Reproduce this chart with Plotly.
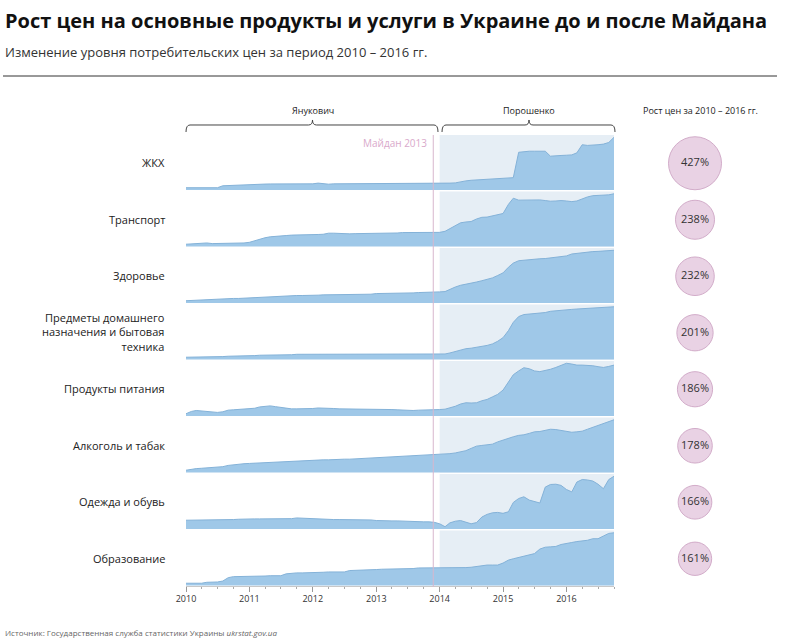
import pandas as pd
import plotly.graph_objects as go

# monthly price index, Jan 2010 = 100
months = pd.date_range('2010-01-01', '2016-10-01', freq='MS')

categories = ['ЖКХ', 'Транспорт', 'Здоровье',
              'Предметы домашнего<br>назначения и бытовая<br>техника',
              'Продукты питания', 'Алкоголь и табак', 'Одежда и обувь', 'Образование']

growth = [427, 238, 232, 201, 186, 178, 166, 161]

zhkh = [100, 100, 100, 100, 100, 100, 100, 116.5, 119, 119, 122, 125,
        127.5, 130, 131, 131, 132, 132, 132, 132, 133, 133, 133, 133,
        133, 139, 133, 130, 133, 133, 136, 139, 139, 133, 133, 136,
        139, 139, 139, 139, 139, 139, 139, 139, 139, 139, 139, 139,
        139, 139, 139, 141, 152, 158, 163, 166, 169, 172, 174, 180,
        183, 183, 185, 400, 406, 409, 409, 411, 409, 367, 373, 373,
        375, 378, 395, 464, 458, 458, 464, 469, 483, 527]

transport = [100, 101.5, 103, 104.6, 106, 103, 103, 103, 103, 104.6, 104.6, 106,
             109, 117, 124, 130.5, 135, 138, 140, 141, 143, 143, 144, 146,
             146, 146, 147, 152, 152, 150, 149, 149, 150, 150, 150, 152,
             152, 152, 153, 153, 153, 155, 155, 155, 155, 155, 155, 155,
             156, 161, 173, 185, 201, 205, 207, 219, 227, 228, 234, 240,
             245, 288, 317, 308, 308, 309, 311, 309, 306, 303, 304, 306,
             304, 301, 304, 314, 323, 329, 330, 332, 333, 338]

health = [100, 101.5, 103, 104.5, 106, 106, 107.5, 107.5, 109, 110.5, 110.5, 112,
          113.5, 115, 116.5, 118, 119.5, 121, 121, 122.5, 122.5, 124, 124, 125.6,
          125.6, 125.6, 127, 127, 127, 128.6, 128.6, 128.6, 128.6, 130, 130, 130,
          133, 133, 133, 134.6, 134.6, 136, 136, 136, 137.6, 137.6, 139, 139,
          140.7, 142, 153, 163, 171, 175, 180, 186, 192, 198, 205, 216,
          228, 254, 273, 284, 287, 288, 290, 293, 294, 297, 299, 303,
          306, 315, 318, 321, 324, 326, 327, 329, 330, 332]

household = [100, 100, 100, 100, 101, 101, 101, 102.6, 104, 104, 105, 105,
             106.5, 106.5, 108, 108, 108, 109, 109, 110, 110, 111.7, 111.7, 111.7,
             111.7, 111.7, 111.7, 111.7, 111.7, 111.7, 111.7, 111.7, 111.7, 111.7, 111.7, 111.7,
             111.7, 111.7, 111.7, 111.7, 111.7, 111.7, 111.7, 111.7, 111.7, 111.7, 111.7, 111.7,
             111.7, 113, 117, 123, 130, 134, 136, 139, 141.5, 147, 153, 163.5,
             178, 206, 239, 262, 270, 272.5, 274, 275, 278, 283, 285.5, 287,
             288, 290.6, 292, 293, 294.6, 295, 297, 298, 300, 301]

food = [100, 108.7, 112.4, 111, 108.7, 106, 105, 107.4, 113.6, 115, 116, 117.4,
        118.6, 121, 126, 128.5, 130, 127, 123.6, 120, 118.6, 118.6, 118.6, 120,
        120, 122, 122, 121, 120, 118.6, 118.6, 117.4, 117.4, 117.4, 117.4, 117.4,
        117.4, 116, 116, 116, 115, 113.6, 112.4, 112.4, 113.6, 113.6, 113.6, 115,
        116, 117.4, 122, 128.5, 137, 142, 141, 142, 149.6, 154.6, 164.5, 174,
        190.5, 221.5, 249, 263.7, 276, 272, 263.7, 261, 265, 270, 277, 286,
        293, 290, 286, 286, 286, 283.5, 280, 277, 281, 286]

alcohol = [100, 103.4, 105.7, 107, 108, 108, 110, 112.6, 117, 119.5, 122, 123,
           124, 125, 126.4, 126.4, 127.5, 128.7, 128.7, 130, 130, 131, 132, 133,
           134.4, 135.6, 136.7, 136.7, 138, 138, 139, 139, 140, 141.3, 141.3, 142.5,
           143.6, 144.8, 146, 147, 148, 149, 150.5, 151.7, 153, 154, 154, 155,
           156, 157.4, 158.5, 161, 164, 169, 177, 185, 187.5, 189.5, 192, 200,
           207, 213.7, 218, 223, 225, 230, 235.5, 236.6, 241, 244.6, 243.5, 241,
           237.8, 234, 235.5, 237.8, 244.6, 251.5, 259.6, 265, 271, 278]

clothing = [100, 100, 100, 100, 100, 100, 100, 100, 101, 102.5, 103.7, 105,
            105, 105, 105, 105, 105, 105, 105, 105, 106, 108.6, 107.4, 106,
            105, 103.7, 103.7, 102.5, 102.5, 102.5, 102.5, 101, 102.5, 102.5, 102.5, 101,
            98.8, 97.5, 97.5, 97.5, 97.5, 96.3, 95, 93.9, 93.9, 93.9, 93.9, 92,
            86.5, 75.4, 90, 96.3, 98.8, 93.9, 86.5, 91, 112, 122, 128, 129.5,
            126, 132, 167, 182, 188.5, 176, 170, 165, 225, 235, 236, 231.6,
            216, 207, 244, 253.7, 252, 248, 236, 219, 253.7, 266]

education = [100, 100, 100, 100, 103, 103, 104, 107, 117.7, 121, 121, 122,
             122, 123, 123, 123, 124, 124, 124, 130, 132, 133, 133, 133,
             134, 134, 135, 136, 136, 136, 136, 140.5, 141.6, 142.6, 142.6, 143.6,
             143.6, 144.7, 144.7, 144.7, 144.7, 144.7, 144.7, 146.8, 148.8, 148.8, 148.8, 147.8,
             148.8, 148.8, 148.8, 148.8, 149.9, 149.9, 151, 154, 157, 158, 158, 158,
             164.4, 173.8, 178, 182, 186, 191.4, 194.5, 209, 215, 216, 217.4, 223.6,
             227.8, 230, 233, 235, 237, 242, 242, 250.6, 259, 261]

series = [zhkh, transport, health, household, food, alcohol, clothing, education]

W, H = 800, 639
FONT = 'Open Sans'
x_dom = [186 / W, 614 / W]


def py(y):
    return 1 - y / H


fig = go.Figure()
shapes = []
annotations = []

for i, vals in enumerate(series):
    n = i + 1
    top = 135 + 56.5 * i
    bot = top + 55
    lo, hi = min(vals), max(vals)
    pad = 0.045 * (hi - lo)
    fig.add_trace(go.Scatter(
        x=months, y=vals, mode='lines', fill='tozeroy',
        line=dict(color='#84b2d8', width=1), fillcolor='#9fc8e8',
        xaxis='x', yaxis='y' if n == 1 else 'y%d' % n,
        showlegend=False, hoverinfo='skip'))
    fig.layout['yaxis' if n == 1 else 'yaxis%d' % n] = dict(
        domain=[py(bot), py(top)], range=[lo - pad, hi + pad],
        visible=False, anchor='x', fixedrange=True)
    yref = 'y domain' if n == 1 else 'y%d domain' % n
    shapes.append(dict(type='rect', xref='x', yref=yref, x0='2014-01-01', x1=months[-1],
                       y0=0, y1=1, fillcolor='#e6eef5', line=dict(width=0), layer='below'))
    annotations.append(dict(xref='paper', yref=yref, x=167 / W, y=0.5, xanchor='right',
                            yanchor='middle', text=categories[i], showarrow=False, align='right',
                            font=dict(family=FONT, size=11, color='#222')))

# growth circles
fig.add_trace(go.Scatter(
    x=['g'] * len(categories), y=categories, mode='markers+text',
    marker=dict(size=[21.4 + 0.074 * g for g in growth], sizemode='diameter',
                color='#e0c0da', line=dict(color='#c08ab3', width=1)),
    text=['%d%%' % g for g in growth], textposition='middle center',
    textfont=dict(family=FONT, size=11, color='#333'),
    xaxis='x2', yaxis='y9', showlegend=False, hoverinfo='skip'))

fig.update_layout(
    width=W, height=H,
    margin=dict(l=0, r=0, t=0, b=0, autoexpand=False),
    paper_bgcolor='white', plot_bgcolor='rgba(0,0,0,0)',
    xaxis=dict(domain=x_dom, range=[months[0], months[-1]], anchor='y8',
               type='date', tick0='2010-01-01', dtick='M12', tickformat='%Y',
               ticks='outside', ticklen=5, tickcolor='#999', showgrid=False,
               showline=True, linecolor='#c8c8c8', zeroline=False, automargin=False,
               minor=dict(dtick='M3', ticks='outside', ticklen=2, tickcolor='#aaa'),
               tickfont=dict(family=FONT, size=9, color='#333'), fixedrange=True),
    xaxis2=dict(domain=[645 / W, 745 / W], visible=False, anchor='y9', fixedrange=True),
    yaxis9=dict(domain=[py(587), py(135)], type='category', categoryarray=categories,
                range=[len(categories) - 0.5, -0.5], autorange=False,
                visible=False, anchor='x2', fixedrange=True),
)

# Maidan line
shapes.append(dict(type='line', xref='x', yref='paper', x0='2013-11-25', x1='2013-11-25',
                   y0=py(587), y1=py(135), line=dict(color='#d8b6cd', width=1), layer='above'))
annotations.append(dict(xref='paper', yref='paper', x=429 / W, y=py(143), xanchor='right',
                        yanchor='middle', text='Майдан 2013', showarrow=False,
                        font=dict(family=FONT, size=10, color='#d9a9cb')))


def bracket(x0, x1, tip):
    yl, yt, ye = py(125), py(120), py(132)
    return ('M %f,%f Q %f,%f %f,%f L %f,%f Q %f,%f %f,%f Q %f,%f %f,%f L %f,%f Q %f,%f %f,%f'
            % (x0 / W, ye, x0 / W, yl, (x0 + 4) / W, yl, (tip - 4) / W, yl,
               tip / W, yl, tip / W, yt, tip / W, yl, (tip + 4) / W, yl,
               (x1 - 4) / W, yl, x1 / W, yl, x1 / W, ye))


for x0, x1, tip, name in [(186, 438, 312.5, 'Янукович'), (442, 615, 529, 'Порошенко')]:
    shapes.append(dict(type='path', xref='paper', yref='paper', path=bracket(x0, x1, tip),
                       line=dict(color='#444', width=1)))
    annotations.append(dict(xref='paper', yref='paper', x=tip / W, y=py(110), text=name,
                            showarrow=False, xanchor='center', yanchor='middle',
                            font=dict(family=FONT, size=9, color='#222')))

annotations.append(dict(xref='paper', yref='paper', x=700 / W, y=py(110),
                        text='Рост цен за 2010 – 2016 гг.', showarrow=False,
                        xanchor='center', yanchor='middle',
                        font=dict(family=FONT, size=9, color='#222')))

# title block
annotations.append(dict(xref='paper', yref='paper', x=3 / W, y=py(20), xanchor='left',
                        yanchor='middle', showarrow=False,
                        text='<b>Рост цен на основные продукты и услуги в Украине до и после Майдана</b>',
                        font=dict(family=FONT, size=20, color='#111')))
annotations.append(dict(xref='paper', yref='paper', x=3 / W, y=py(52), xanchor='left',
                        yanchor='middle', showarrow=False,
                        text='Изменение уровня потребительских цен за период 2010 – 2016 гг.',
                        font=dict(family=FONT, size=13, color='#333')))
shapes.append(dict(type='line', xref='paper', yref='paper', x0=3 / W, x1=777 / W,
                   y0=py(76), y1=py(76), line=dict(color='#333', width=1)))

annotations.append(dict(xref='paper', yref='paper', x=3 / W, y=py(632), xanchor='left',
                        yanchor='middle', showarrow=False,
                        text='Источник: Государственная служба статистики Украины <i>ukrstat.gov.ua</i>',
                        font=dict(family=FONT, size=8, color='#666')))

fig.update_layout(shapes=shapes, annotations=annotations)
fig.write_html('out.html', config={'displayModeBar': False},
               post_script="document.body.style.margin='0';")
